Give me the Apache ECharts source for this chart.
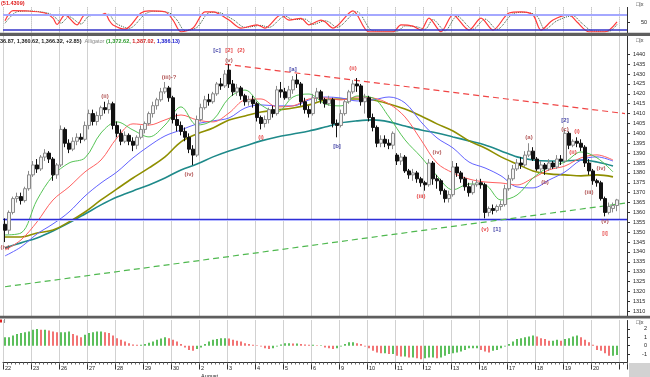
<!DOCTYPE html>
<html>
<head>
<meta charset="utf-8">
<script src="https://cdn.jsdelivr.net/npm/echarts@6/dist/echarts.min.js"></script>
<style>
  html, body { margin: 0; padding: 0; background: #fff; }
  #chart { width: 650px; height: 377px; }
</style>
</head>
<body>
<div id="chart"></div>
<script>
/****************************** DATA ******************************/
// trading days on the time ruler, 7 bars per day
const dayLabels = ['22', '23', '26', '27', '28', '29', '30', '2', '3', '4', '5',
  '6', '9', '10', '11', '12', '13', '16', '17', '18', '19', '20']
const barsPerDay = 7
const monthLabel = { index: 7, text: 'August' }

// candles: [open, close, low, high]
const candles = [
  [1354, 1351, 1345, 1357], [1351, 1360, 1349, 1361], [1360, 1367, 1359, 1368], [1367, 1368, 1365, 1370],
  [1368, 1366, 1364, 1370], [1366, 1372, 1365, 1373], [1372, 1379, 1371, 1381], [1379, 1384, 1378, 1386],
  [1384, 1382, 1380, 1387], [1382, 1388, 1381, 1389], [1388, 1390, 1386, 1392], [1390, 1387, 1385, 1391],
  [1387, 1379, 1376, 1388], [1379, 1384, 1377, 1385], [1384, 1402, 1383, 1404], [1402, 1395, 1393, 1403],
  [1395, 1392, 1390, 1397], [1392, 1396, 1391, 1398], [1396, 1398, 1394, 1400], [1398, 1397, 1395, 1400],
  [1397, 1404, 1396, 1406], [1404, 1410, 1402, 1412], [1410, 1406, 1404, 1412], [1406, 1409, 1404, 1411],
  [1409, 1413, 1407, 1414], [1413, 1412, 1410, 1416], [1412, 1415, 1410, 1417], [1415, 1404, 1402, 1416],
  [1404, 1400, 1398, 1406], [1400, 1396, 1394, 1402], [1396, 1399, 1395, 1401], [1399, 1396, 1394, 1400],
  [1396, 1394, 1391, 1398], [1394, 1398, 1392, 1399], [1398, 1402, 1397, 1404], [1402, 1405, 1400, 1406],
  [1405, 1410, 1404, 1411], [1410, 1414, 1408, 1416], [1414, 1417, 1412, 1418], [1417, 1421, 1416, 1423],
  [1421, 1423, 1420, 1426], [1423, 1418, 1416, 1424], [1418, 1407, 1405, 1419], [1407, 1404, 1401, 1410],
  [1404, 1401, 1399, 1406], [1401, 1398, 1396, 1403], [1398, 1392, 1390, 1400], [1392, 1389, 1384, 1394],
  [1389, 1407, 1388, 1409], [1407, 1413, 1406, 1415], [1413, 1417, 1412, 1419], [1417, 1416, 1414, 1420],
  [1416, 1420, 1415, 1421], [1420, 1425, 1419, 1426], [1425, 1424, 1422, 1428], [1424, 1430, 1423, 1432],
  [1432, 1425, 1423, 1435], [1425, 1421, 1419, 1427], [1421, 1423, 1419, 1425], [1423, 1419, 1417, 1424],
  [1419, 1416, 1414, 1420], [1416, 1417, 1414, 1419], [1417, 1415, 1413, 1419], [1415, 1408, 1406, 1416],
  [1408, 1405, 1402, 1409], [1405, 1407, 1403, 1409], [1407, 1412, 1405, 1413], [1412, 1410, 1408, 1414],
  [1410, 1422, 1409, 1424], [1422, 1421, 1418, 1426], [1421, 1418, 1417, 1423], [1418, 1422, 1417, 1424],
  [1422, 1427, 1420, 1429], [1427, 1425, 1423, 1430], [1425, 1416, 1414, 1426], [1416, 1412, 1410, 1418],
  [1412, 1410, 1408, 1414], [1410, 1418, 1409, 1420], [1418, 1421, 1416, 1423], [1421, 1417, 1415, 1422],
  [1417, 1415, 1413, 1418], [1415, 1417, 1414, 1419], [1417, 1405, 1403, 1418], [1405, 1404, 1398, 1407],
  [1404, 1410, 1403, 1412], [1410, 1416, 1409, 1417], [1416, 1421, 1415, 1422], [1421, 1425, 1420, 1427],
  [1425, 1424, 1421, 1428], [1424, 1416, 1414, 1425], [1416, 1418, 1410, 1420], [1418, 1408, 1406, 1419],
  [1408, 1403, 1401, 1410], [1403, 1395, 1393, 1404], [1395, 1397, 1393, 1399], [1397, 1395, 1393, 1399],
  [1395, 1394, 1392, 1397], [1394, 1400, 1392, 1401], [1389, 1386, 1384, 1390], [1386, 1388, 1384, 1390],
  [1388, 1381, 1380, 1389], [1381, 1379, 1377, 1382], [1379, 1380, 1376, 1382], [1380, 1377, 1375, 1381],
  [1377, 1375, 1373, 1378], [1375, 1374, 1371, 1376], [1374, 1385, 1373, 1387], [1385, 1377, 1374, 1386],
  [1377, 1376, 1372, 1379], [1376, 1371, 1369, 1377], [1371, 1367, 1365, 1372], [1367, 1369, 1365, 1371],
  [1369, 1383, 1368, 1386], [1383, 1380, 1378, 1385], [1380, 1377, 1375, 1381], [1377, 1373, 1371, 1378],
  [1373, 1370, 1368, 1375], [1370, 1374, 1369, 1376], [1374, 1375, 1373, 1377], [1375, 1374, 1372, 1377],
  [1374, 1360, 1357, 1375], [1360, 1362, 1358, 1363], [1362, 1361, 1359, 1364], [1361, 1363, 1360, 1364],
  [1363, 1364, 1361, 1366], [1364, 1372, 1363, 1374], [1372, 1377, 1371, 1379], [1377, 1382, 1376, 1384],
  [1382, 1385, 1381, 1387], [1385, 1384, 1382, 1388], [1384, 1389, 1383, 1391], [1389, 1391, 1388, 1395],
  [1391, 1387, 1386, 1393], [1387, 1382, 1381, 1388], [1382, 1384, 1380, 1386], [1384, 1382, 1379, 1385],
  [1382, 1385, 1381, 1387], [1385, 1383, 1382, 1386], [1383, 1387, 1382, 1389], [1387, 1386, 1384, 1389],
  [1386, 1400, 1385, 1402], [1400, 1394, 1392, 1401], [1394, 1396, 1393, 1397], [1396, 1395, 1393, 1398],
  [1395, 1393, 1391, 1397], [1393, 1385, 1383, 1394], [1385, 1381, 1379, 1387], [1381, 1376, 1374, 1382],
  [1376, 1375, 1373, 1377], [1375, 1367, 1366, 1376], [1367, 1360, 1358, 1368], [1360, 1363, 1359, 1365],
  [1362, 1363.5, 1360, 1365], [1363.5, 1366.32, 1360.62, 1366.87]
]

// moving averages read every 4 bars
const maBars = [0, 4, 8, 12, 16, 20, 24, 28, 32, 36, 40, 44, 48, 52, 56, 60, 64, 68, 72, 76,
  80, 84, 88, 92, 96, 100, 104, 108, 112, 116, 120, 124, 128, 132, 136, 140, 144, 148, 152]
const maGreen = [1348.6, 1349.6, 1366.3, 1378.5, 1385.0, 1387.6, 1400.2, 1405.8, 1401.7, 1398.2,
  1404.2, 1413.4, 1404.2, 1406.8, 1417.9, 1421.9, 1414.4, 1410.8, 1418.4, 1419.9,
  1414.9, 1413.9, 1418.9, 1417.9, 1408.3, 1396.7, 1388.1, 1378.5, 1371.4, 1374.4,
  1373.9, 1366.3, 1368.8, 1377.4, 1383.0, 1385.5, 1390.6, 1387.6, 1380.5]
const maRed = [1341.0, 1346.1, 1355.2, 1366.3, 1372.9, 1380.5, 1386.5, 1397.7, 1404.8, 1404.2,
  1406.8, 1409.3, 1406.8, 1405.8, 1410.3, 1416.9, 1417.4, 1413.4, 1413.9, 1417.4,
  1417.9, 1416.9, 1418.4, 1417.9, 1414.9, 1408.3, 1396.7, 1385.0, 1380.0, 1376.9,
  1375.4, 1374.9, 1373.9, 1377.4, 1381.5, 1383.5, 1387.6, 1389.1, 1386.5]
const maBlue = [1338.0, 1342.5, 1349.1, 1354.2, 1360.2, 1368.3, 1374.9, 1380.5, 1387.6, 1393.6,
  1398.7, 1401.7, 1404.8, 1406.3, 1407.8, 1412.8, 1414.4, 1413.9, 1413.9, 1416.9,
  1418.4, 1417.9, 1416.4, 1416.9, 1418.4, 1415.4, 1405.8, 1397.7, 1392.6, 1385.5,
  1382.5, 1378.5, 1372.9, 1372.4, 1376.4, 1380.5, 1386.5, 1388.1, 1386.0]
const maOlive = [1347.6, 1347.6, 1349.6, 1351.1, 1355.2, 1360.2, 1366.3, 1371.9, 1377.4, 1382.5,
  1388.1, 1395.7, 1399.7, 1402.7, 1406.8, 1408.8, 1410.8, 1411.8, 1412.8, 1414.4,
  1416.9, 1417.4, 1417.4, 1416.9, 1414.9, 1412.3, 1408.8, 1404.8, 1401.2, 1396.2,
  1392.6, 1388.1, 1384.5, 1381.0, 1379.5, 1379.0, 1378.5, 1379.0, 1378.0]
const maTeal = [1342.0, 1344.6, 1347.1, 1350.6, 1354.7, 1359.2, 1363.8, 1367.8, 1370.9, 1373.9,
  1377.4, 1381.5, 1384.5, 1388.1, 1391.1, 1393.6, 1396.2, 1398.2, 1399.7, 1401.2,
  1403.2, 1405.3, 1406.3, 1406.8, 1405.8, 1403.7, 1401.7, 1400.2, 1398.2, 1396.2,
  1394.1, 1391.1, 1388.1, 1386.5, 1386.0, 1386.0, 1386.5, 1385.5, 1383.5]

// trend lines and support: [bar, price]
const supportLevel = 1356.5
const redTrend = [[55, 1435], [155, 1410]]
const greenTrend = [[0, 1322.4], [155, 1364.7]]

// wave labels: [bar, price, text]
const wavesDark = [[0, 1342.5, '(iv)'], [25, 1418.9, '(ii)'], [41, 1428.5, '(iii)-?'], [46, 1379.5, '(iv)'],
  [56, 1437.1, '(v)'], [108, 1390.6, '(iv)'], [131, 1398.2, '(a)'], [135, 1375.4, '(b)'],
  [140, 1402.2, '(c)'], [146, 1370.4, '(iii)'], [149, 1382.5, '(iv)'], [150, 1355.7, '(v)']]
const wavesRed = [[56, 1442.2, '[2]'], [59, 1442.2, '(2)'], [64, 1398.2, '(i)'], [87, 1433.1, '(ii)'],
  [104, 1368.3, '(iii)'], [120, 1351.6, '(v)'], [143, 1401.2, '(i)'], [142, 1390.6, '(ii)'],
  [150, 1349.6, '[i]']]
const wavesBlue = [[53, 1442.2, '[c]'], [72, 1432.6, '[a]'], [83, 1393.6, '[b]'], [123, 1351.6, '[1]'],
  [140, 1406.8, '[2]']]

// stochastic: [bar, value]
const stochK = [[0, 55], [2, 97], [5, 96], [10, 87], [12, 66], [13, 40], [15, 79], [18, 38], [20, 79],
  [24, 79], [25, 86], [26, 58], [27, 38], [30, 21], [34, 87], [36, 96], [40, 92], [42, 58], [44, 10],
  [47, 25], [50, 92], [52, 92], [56, 58], [59, 25], [63, 38], [65, 25], [69, 79], [71, 58], [74, 65],
  [76, 38], [79, 58], [80, 51], [82, 25], [87, 96], [91, 10], [97, 10], [99, 38], [102, 33], [104, 17],
  [106, 66], [109, 10], [112, 79], [116, 17], [119, 66], [122, 17], [126, 87], [129, 92], [132, 79],
  [134, 17], [137, 58], [141, 79], [143, 50], [146, 10], [150, 10], [153, 51]]
const stochD = [[0, 45], [3, 92], [6, 95], [11, 85], [13, 62], [14, 45], [16, 72], [19, 42], [21, 74],
  [25, 80], [26, 82], [27, 60], [28, 42], [31, 24], [35, 82], [37, 94], [41, 88], [43, 58], [45, 15],
  [48, 28], [51, 88], [53, 90], [57, 60], [60, 28], [64, 36], [66, 28], [70, 74], [72, 60], [75, 62],
  [77, 40], [80, 55], [81, 50], [83, 28], [88, 92], [92, 14], [98, 12], [100, 34], [103, 30], [105, 20],
  [107, 60], [110, 14], [113, 74], [117, 20], [120, 62], [123, 20], [127, 84], [130, 90], [133, 74],
  [135, 20], [138, 55], [142, 76], [144, 48], [147, 13], [151, 12], [153, 40]]
const stochLevels = [80, 20]

// oscillator histogram, one value per bar
const histValues = [1.0, 1.0, 1.2, 1.4, 1.5, 1.6, 1.7, 1.9, 2.0, 1.9, 1.9, 1.8, 1.7, 1.6,
  1.6, 1.6, 1.7, 1.4, 1.2, 1.0, 1.3, 1.5, 1.6, 1.7, 1.7, 1.6, 1.5, 1.2,
  0.9, 0.7, 0.5, 0.3, 0.15, 0.1, 0.1, 0.2, 0.35, 0.5, 0.7, 0.85, 1.0, 0.9,
  0.7, 0.5, 0.2, -0.2, -0.5, -0.6, -0.4, -0.2, 0.2, 0.5, 0.7, 0.8, 0.9, 0.9,
  0.85, 0.7, 0.6, 0.5, 0.3, 0.2, 0.1, 0.05, -0.1, -0.3, -0.4, -0.3, -0.1, 0.15,
  0.3, 0.3, 0.25, 0.25, 0.2, 0.15, 0.1, 0.1, 0.05, 0.05, -0.2, -0.3, -0.4, -0.3,
  -0.1, 0.2, 0.4, 0.4, 0.3, 0.2, -0.1, -0.3, -0.6, -0.8, -0.9, -0.9, -1.0, -1.0,
  -1.2, -1.3, -1.3, -1.4, -1.4, -1.5, -1.6, -1.5, -1.4, -1.4, -1.5, -1.4, -1.2, -1.0,
  -0.9, -0.8, -0.7, -0.5, -0.3, -0.3, -0.3, -0.5, -0.7, -0.8, -0.6, -0.5, -0.3, -0.1,
  0.2, 0.5, 0.8, 0.9, 1.0, 1.1, 1.2, 1.1, 0.9, 0.8, 0.6, 0.6, 0.7, 0.6,
  0.8, 0.9, 1.1, 1.2, 1.0, 0.7, 0.4, 0.1, -0.5, -0.6, -0.9, -1.2, -1.2, -1.1]

// tick labels
const priceTicks = [1310, 1315, 1320, 1325, 1330, 1335, 1340, 1345, 1350, 1355, 1360, 1365, 1370,
  1375, 1380, 1385, 1390, 1395, 1400, 1405, 1410, 1415, 1420, 1425, 1430, 1435, 1440]
const stochTicks = [50]
const histTicks = [2, 1, 0, -1]

/****************************** CHART ******************************/
const font = 'Liberation Sans, Arial, sans-serif'
const padBars = 2
const categories = []
dayLabels.forEach((d, i) => {
  for (let k = 0; k < barsPerDay; k++) categories.push(i * barsPerDay + k)
})
for (let k = 0; k < padBars; k++) categories.push(candles.length + k)

const isDayStart = (index) => index % barsPerDay === 0
const isLabelDay = (index) => index % barsPerDay === 0 && index < candles.length
const plainNumber = (v) => String(v)

const dottedSplit = {
  show: true,
  interval: isDayStart,
  lineStyle: { color: '#a4a4a4', type: 'dotted', width: 1 }
}

const hiddenX = (gridIndex) => ({
  type: 'category',
  gridIndex,
  data: categories,
  boundaryGap: true,
  axisLine: { show: false, onZero: false },
  axisTick: { show: false },
  axisLabel: { show: false },
  splitLine: dottedSplit
})

const maSeries = (data, color, width) => ({
  type: 'line',
  xAxisIndex: 1,
  yAxisIndex: 1,
  data: maBars.map((b, k) => [b, data[k]]),
  smooth: 0.35,
  symbol: 'none',
  silent: true,
  lineStyle: { color, width }
})

const labelSeries = (rows, color) => ({
  type: 'scatter',
  xAxisIndex: 1,
  yAxisIndex: 1,
  data: rows,
  symbolSize: 1,
  itemStyle: { color: 'rgba(0,0,0,0)' },
  silent: true,
  label: {
    show: true,
    position: 'inside',
    formatter: (p) => p.data[2],
    color,
    fontSize: 6,
    fontWeight: 'bold',
    fontFamily: font
  },
  z: 10
})

const chart = echarts.init(document.getElementById('chart'))

const option = {
  animation: false,
  backgroundColor: '#ffffff',
  grid: [
    { left: 3, right: 23, top: 7.4, height: 29.2, outerBoundsMode: 'none' },
    { left: 3, right: 23, top: 36.5, height: 279.7, outerBoundsMode: 'none' },
    { left: 3, right: 23, top: 320.5, height: 42, outerBoundsMode: 'none' }
  ],
  xAxis: [
    hiddenX(0),
    hiddenX(1),
    {
      type: 'category',
      gridIndex: 2,
      data: categories,
      boundaryGap: true,
      position: 'bottom',
      axisLine: { show: true, onZero: false, lineStyle: { color: '#333', width: 1 } },
      axisTick: { show: true, interval: isDayStart, length: 7, lineStyle: { color: '#333' } },
      axisLabel: {
        show: true,
        interval: isLabelDay,
        formatter: (v, index) => {
          const day = Math.floor(index / barsPerDay)
          return day === monthLabel.index ? dayLabels[day] + '\n' + monthLabel.text : dayLabels[day]
        },
        align: 'left',
        margin: 2,
        fontSize: 5.5,
        lineHeight: 8,
        color: '#222',
        fontFamily: font
      },
      splitLine: dottedSplit
    },
    {
      type: 'category',
      gridIndex: 2,
      data: categories,
      boundaryGap: true,
      position: 'bottom',
      axisLine: { show: false, onZero: false },
      axisTick: { show: true, interval: 0, length: 2, lineStyle: { color: '#666' } },
      axisLabel: { show: false },
      splitLine: { show: false }
    }
  ],
  yAxis: [
    {
      type: 'value',
      gridIndex: 0,
      position: 'right',
      min: -10,
      max: 110,
      axisLine: { show: true, lineStyle: { color: '#333' } },
      axisTick: { show: true, customValues: stochTicks, length: 3, lineStyle: { color: '#333' } },
      axisLabel: { customValues: stochTicks, formatter: plainNumber, fontSize: 5.5, color: '#222', align: 'right', margin: 20, fontFamily: font },
      splitLine: { show: false }
    },
    {
      type: 'value',
      gridIndex: 1,
      position: 'right',
      min: 1307.5,
      max: 1449,
      axisLine: { show: true, lineStyle: { color: '#333' } },
      axisTick: { show: true, customValues: priceTicks, length: 3, lineStyle: { color: '#333' } },
      axisLabel: { customValues: priceTicks, formatter: plainNumber, fontSize: 5.5, color: '#222', margin: 6, fontFamily: font },
      splitLine: { show: false }
    },
    {
      type: 'value',
      gridIndex: 2,
      position: 'right',
      min: -2,
      max: 3,
      axisLine: { show: true, lineStyle: { color: '#333' } },
      axisTick: { show: true, customValues: histTicks, length: 3, lineStyle: { color: '#333' } },
      axisLabel: { customValues: histTicks, formatter: plainNumber, fontSize: 5.5, color: '#222', align: 'right', margin: 20, fontFamily: font },
      splitLine: { show: false }
    }
  ],
  series: [
    // stochastic panel
    {
      type: 'line',
      xAxisIndex: 0,
      yAxisIndex: 0,
      data: stochD,
      smooth: 0.3,
      symbol: 'none',
      silent: true,
      lineStyle: { color: '#3a5a3a', width: 1, type: 'dotted' }
    },
    {
      type: 'line',
      xAxisIndex: 0,
      yAxisIndex: 0,
      data: stochK,
      smooth: 0.3,
      symbol: 'none',
      silent: true,
      lineStyle: { color: '#ff3a3a', width: 1.2 },
      markLine: {
        silent: true,
        symbol: ['none', 'none'],
        label: { show: false },
        data: [
          { yAxis: stochLevels[0], lineStyle: { color: '#a4a8ff', width: 2, type: 'solid' } },
          { yAxis: stochLevels[1], lineStyle: { color: '#3535c8', width: 1.5, type: 'solid' } }
        ]
      }
    },
    // price panel
    maSeries(maTeal, '#1f8a8a', 1.6),
    maSeries(maOlive, '#8f8f00', 1.6),
    maSeries(maBlue, '#6262ff', 1),
    maSeries(maRed, '#ff6060', 1),
    maSeries(maGreen, '#55c455', 1),
    {
      type: 'candlestick',
      xAxisIndex: 1,
      yAxisIndex: 1,
      data: candles,
      barWidth: 2.6,
      silent: true,
      itemStyle: {
        color: '#f2f2f2',
        color0: '#111111',
        borderColor: '#8a8a8a',
        borderColor0: '#111111',
        borderWidth: 1
      },
      markLine: {
        silent: true,
        symbol: ['none', 'none'],
        label: { show: false },
        data: [
          { yAxis: supportLevel, lineStyle: { color: '#2e2ed6', width: 1.4, type: 'solid' } },
          { yAxis: supportLevel - 0.7, lineStyle: { color: '#b4b8ff', width: 1.2, type: 'solid' } },
          [
            { coord: redTrend[0], lineStyle: { color: '#f04545', width: 1.2, type: [6, 4] } },
            { coord: redTrend[1] }
          ],
          [
            { coord: greenTrend[0], lineStyle: { color: '#4fb84f', width: 1.2, type: [6, 4] } },
            { coord: greenTrend[1] }
          ]
        ]
      },
      z: 5
    },
    labelSeries(wavesDark, '#a03030'),
    labelSeries(wavesRed, '#e01818'),
    labelSeries(wavesBlue, '#101090'),
    // oscillator panel
    {
      type: 'bar',
      xAxisIndex: 2,
      yAxisIndex: 2,
      data: histValues,
      barWidth: 2,
      silent: true,
      itemStyle: {
        color: (p) => {
          const prev = p.dataIndex > 0 ? histValues[p.dataIndex - 1] : p.value
          return p.value >= prev ? '#5cbf5c' : '#f27474'
        }
      }
    }
  ],
  graphic: [
    { type: 'rect', z: 100, shape: { x: 0, y: 32.8, width: 650, height: 3.2 }, style: { fill: '#5e5e5e' } },
    { type: 'rect', z: 100, shape: { x: 0, y: 315.8, width: 650, height: 2.8 }, style: { fill: '#5e5e5e' } },
    { type: 'rect', z: 100, shape: { x: 629, y: 363, width: 21, height: 14 }, style: { fill: '#d2d2d2' } },
    {
      type: 'text', z: 100, x: 1, y: 0,
      style: { text: '(51.4309)', fill: '#e02020', font: 'bold 5.5px ' + font }
    },
    {
      type: 'text', z: 100, x: 0, y: 38.5,
      style: {
        text: '{k|36.87, 1,360.62, 1,366.32, +2.85)}  {n|Alligator} {g|(1,372.62,} {r|1,387.02,} {b|1,386.13)}',
        font: 'bold 5.5px ' + font,
        rich: {
          k: { fill: '#222', fontSize: 5.5, fontWeight: 'bold', fontFamily: font },
          n: { fill: '#888', fontSize: 5.5, fontFamily: font },
          g: { fill: '#2a9a2a', fontSize: 5.5, fontWeight: 'bold', fontFamily: font },
          r: { fill: '#d02020', fontSize: 5.5, fontWeight: 'bold', fontFamily: font },
          b: { fill: '#2020d0', fontSize: 5.5, fontWeight: 'bold', fontFamily: font }
        }
      }
    },
    { type: 'rect', z: 100, shape: { x: 0, y: 319.5, width: 2, height: 3 }, style: { fill: '#e02020' } },
    { type: 'text', z: 100, x: 4, y: 318.5, style: { text: 'I', fill: '#333', font: '5.5px ' + font } },
    { type: 'text', z: 100, x: 636, y: 1, style: { text: '\u25A1|x', fill: '#333', font: '5.5px ' + font } },
    { type: 'text', z: 100, x: 636, y: 37.5, style: { text: '\u25A1|x', fill: '#333', font: '5.5px ' + font } },
    { type: 'text', z: 100, x: 636, y: 319, style: { text: '\u25A1|x', fill: '#333', font: '5.5px ' + font } }
  ]
}

chart.setOption(option)
</script>
</body>
</html>
